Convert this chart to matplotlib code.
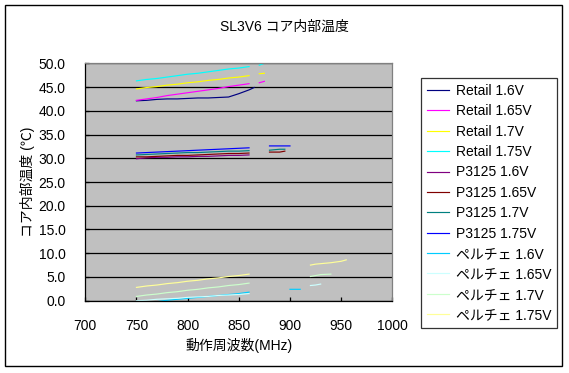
import numpy as np
import matplotlib
matplotlib.use('Agg')
import matplotlib.pyplot as plt
from matplotlib.patches import Rectangle

plt.rcParams['font.family'] = ['Liberation Sans', 'Noto Sans CJK JP', 'DejaVu Sans']

nan = np.nan

# Retail
freq_retail = [750, 760, 770, 780, 790, 800, 810, 820, 830, 840, 850, 860, 865, 870, 875]
retail_160 = [42.1, 42.2, 42.4, 42.5, 42.5, 42.6, 42.7, 42.7, 42.8, 42.9, 43.6, 44.4, 44.9, nan, nan]
retail_165 = [42.2, 42.5, 42.8, 43.2, 43.5, 43.8, 44.1, 44.4, 44.7, 45.1, 45.4, 45.7, nan, 45.9, 46.2]
retail_170 = [44.6, 44.9, 45.1, 45.4, 45.6, 45.9, 46.1, 46.4, 46.6, 46.9, 47.1, 47.4, nan, 47.8, 47.9]
retail_175 = [46.3, 46.6, 46.8, 47.1, 47.4, 47.7, 47.9, 48.2, 48.5, 48.8, 49.0, 49.3, nan, 49.6, 50.0]

# P3125
freq_p3125 = [750, 760, 770, 780, 790, 800, 810, 820, 830, 840, 850, 860, 870, 880, 885, 890, 895, 900]
p3125_160 = [29.9, 30.1, 30.2, 30.2, 30.3, 30.3, 30.4, 30.4, 30.5, 30.6, 30.6, 30.7, nan, nan, nan, nan, nan, nan]
p3125_165 = [30.3, 30.3, 30.4, 30.5, 30.6, 30.6, 30.7, 30.8, 30.9, 31.0, 31.0, 31.1, nan, 31.3, 31.3, 31.3, 31.5, nan]
p3125_170 = [30.7, 30.8, 30.9, 31.0, 31.1, 31.2, 31.2, 31.3, 31.4, 31.5, 31.5, 31.6, nan, 31.7, 31.8, 31.9, 31.9, nan]
p3125_175 = [31.1, 31.2, 31.3, 31.4, 31.5, 31.6, 31.7, 31.8, 31.9, 32.0, 32.1, 32.2, nan, 32.6, 32.6, 32.6, 32.6, 32.6]

# ペルチェ
freq_peltier = [750, 760, 770, 780, 790, 800, 810, 820, 830, 840, 850, 860, 880, 900, 910, 920, 925, 930, 940, 950, 955]
peltier_160 = [-0.6, -0.4, -0.2, 0.1, 0.3, 0.5, 0.7, 0.9, 1.1, 1.3, 1.5, 1.8, nan, 2.4, 2.4, nan, nan, nan, nan, nan, nan]
peltier_165 = [0.0, 0.1, 0.3, 0.4, 0.5, 0.7, 0.8, 0.9, 1.1, 1.2, 1.3, 1.5, nan, nan, nan, 3.2, 3.3, 3.5, nan, nan, nan]
peltier_170 = [0.9, 1.2, 1.4, 1.7, 1.9, 2.2, 2.4, 2.7, 2.9, 3.2, 3.4, 3.7, nan, nan, nan, 5.1, 5.3, 5.5, 5.6, nan, nan]
peltier_175 = [2.8, 3.1, 3.3, 3.6, 3.8, 4.1, 4.3, 4.6, 4.8, 5.1, 5.3, 5.6, nan, nan, nan, 7.5, 7.7, 7.8, 8.0, 8.3, 8.6]

series = [
    ('Retail 1.6V', freq_retail, retail_160, '#000080'),
    ('Retail 1.65V', freq_retail, retail_165, '#FF00FF'),
    ('Retail 1.7V', freq_retail, retail_170, '#FFFF00'),
    ('Retail 1.75V', freq_retail, retail_175, '#00FFFF'),
    ('P3125 1.6V', freq_p3125, p3125_160, '#800080'),
    ('P3125 1.65V', freq_p3125, p3125_165, '#800000'),
    ('P3125 1.7V', freq_p3125, p3125_170, '#008080'),
    ('P3125 1.75V', freq_p3125, p3125_175, '#0000FF'),
    ('ペルチェ 1.6V', freq_peltier, peltier_160, '#00CCFF'),
    ('ペルチェ 1.65V', freq_peltier, peltier_165, '#CCFFFF'),
    ('ペルチェ 1.7V', freq_peltier, peltier_170, '#CCFFCC'),
    ('ペルチェ 1.75V', freq_peltier, peltier_175, '#FFFF99'),
]

W, H = 569, 373
fig = plt.figure(figsize=(W / 100, H / 100), dpi=100)
fig.patch.set_facecolor('white')

ax = fig.add_axes([85.3 / W, 1 - 300.7 / H, (392.3 - 85.3) / W, (300.7 - 63.3) / H])
ax.set_facecolor('#C0C0C0')

for name, fx, vals, col in series:
    ax.plot(fx, vals, color=col, lw=0.85, label=name)

ax.set_xlim(700, 1000)
ax.set_ylim(0, 50)
ax.set_xticks(np.arange(700, 1001, 50))
ax.set_yticks(np.arange(0, 50.1, 5))
ax.set_yticklabels([f'{v:.1f}' for v in np.arange(0, 50.1, 5)])
ax.yaxis.grid(True, color='black', lw=0.9)
ax.set_axisbelow(True)
ax.tick_params(axis='both', direction='in', length=3, width=0.9, labelsize=10, pad=13)
ax.tick_params(axis='y', pad=14)

for s in ['left', 'bottom']:
    ax.spines[s].set_color('black')
    ax.spines[s].set_linewidth(0.9)
for s in ['top', 'right']:
    ax.spines[s].set_color('#808080')
    ax.spines[s].set_linewidth(0.9)

ax.set_xlabel('動作周波数(MHz)', fontsize=10, labelpad=4)
ax.set_ylabel('コア内部温度 (℃)', fontsize=10, labelpad=3)
fig.text(0.5, 1 - 27 / H, 'SL3V6 コア内部温度', ha='center', va='center', fontsize=10)

leg = ax.legend(loc='upper left', bbox_to_anchor=(421 / W, 1 - 78.3 / H),
                bbox_transform=fig.transFigure, fontsize=10, frameon=True,
                fancybox=False, borderaxespad=0, handlelength=1.65,
                handletextpad=0.45, labelspacing=0.46, borderpad=0.4)
leg.get_frame().set_edgecolor('black')
leg.get_frame().set_linewidth(0.9)

fig.patches.append(Rectangle((5 / W, 1 - 366 / H), (562 - 5) / W, (366 - 5) / H,
                             transform=fig.transFigure, fill=False,
                             edgecolor='black', lw=1.0))

fig.savefig('out.png', dpi=100)
